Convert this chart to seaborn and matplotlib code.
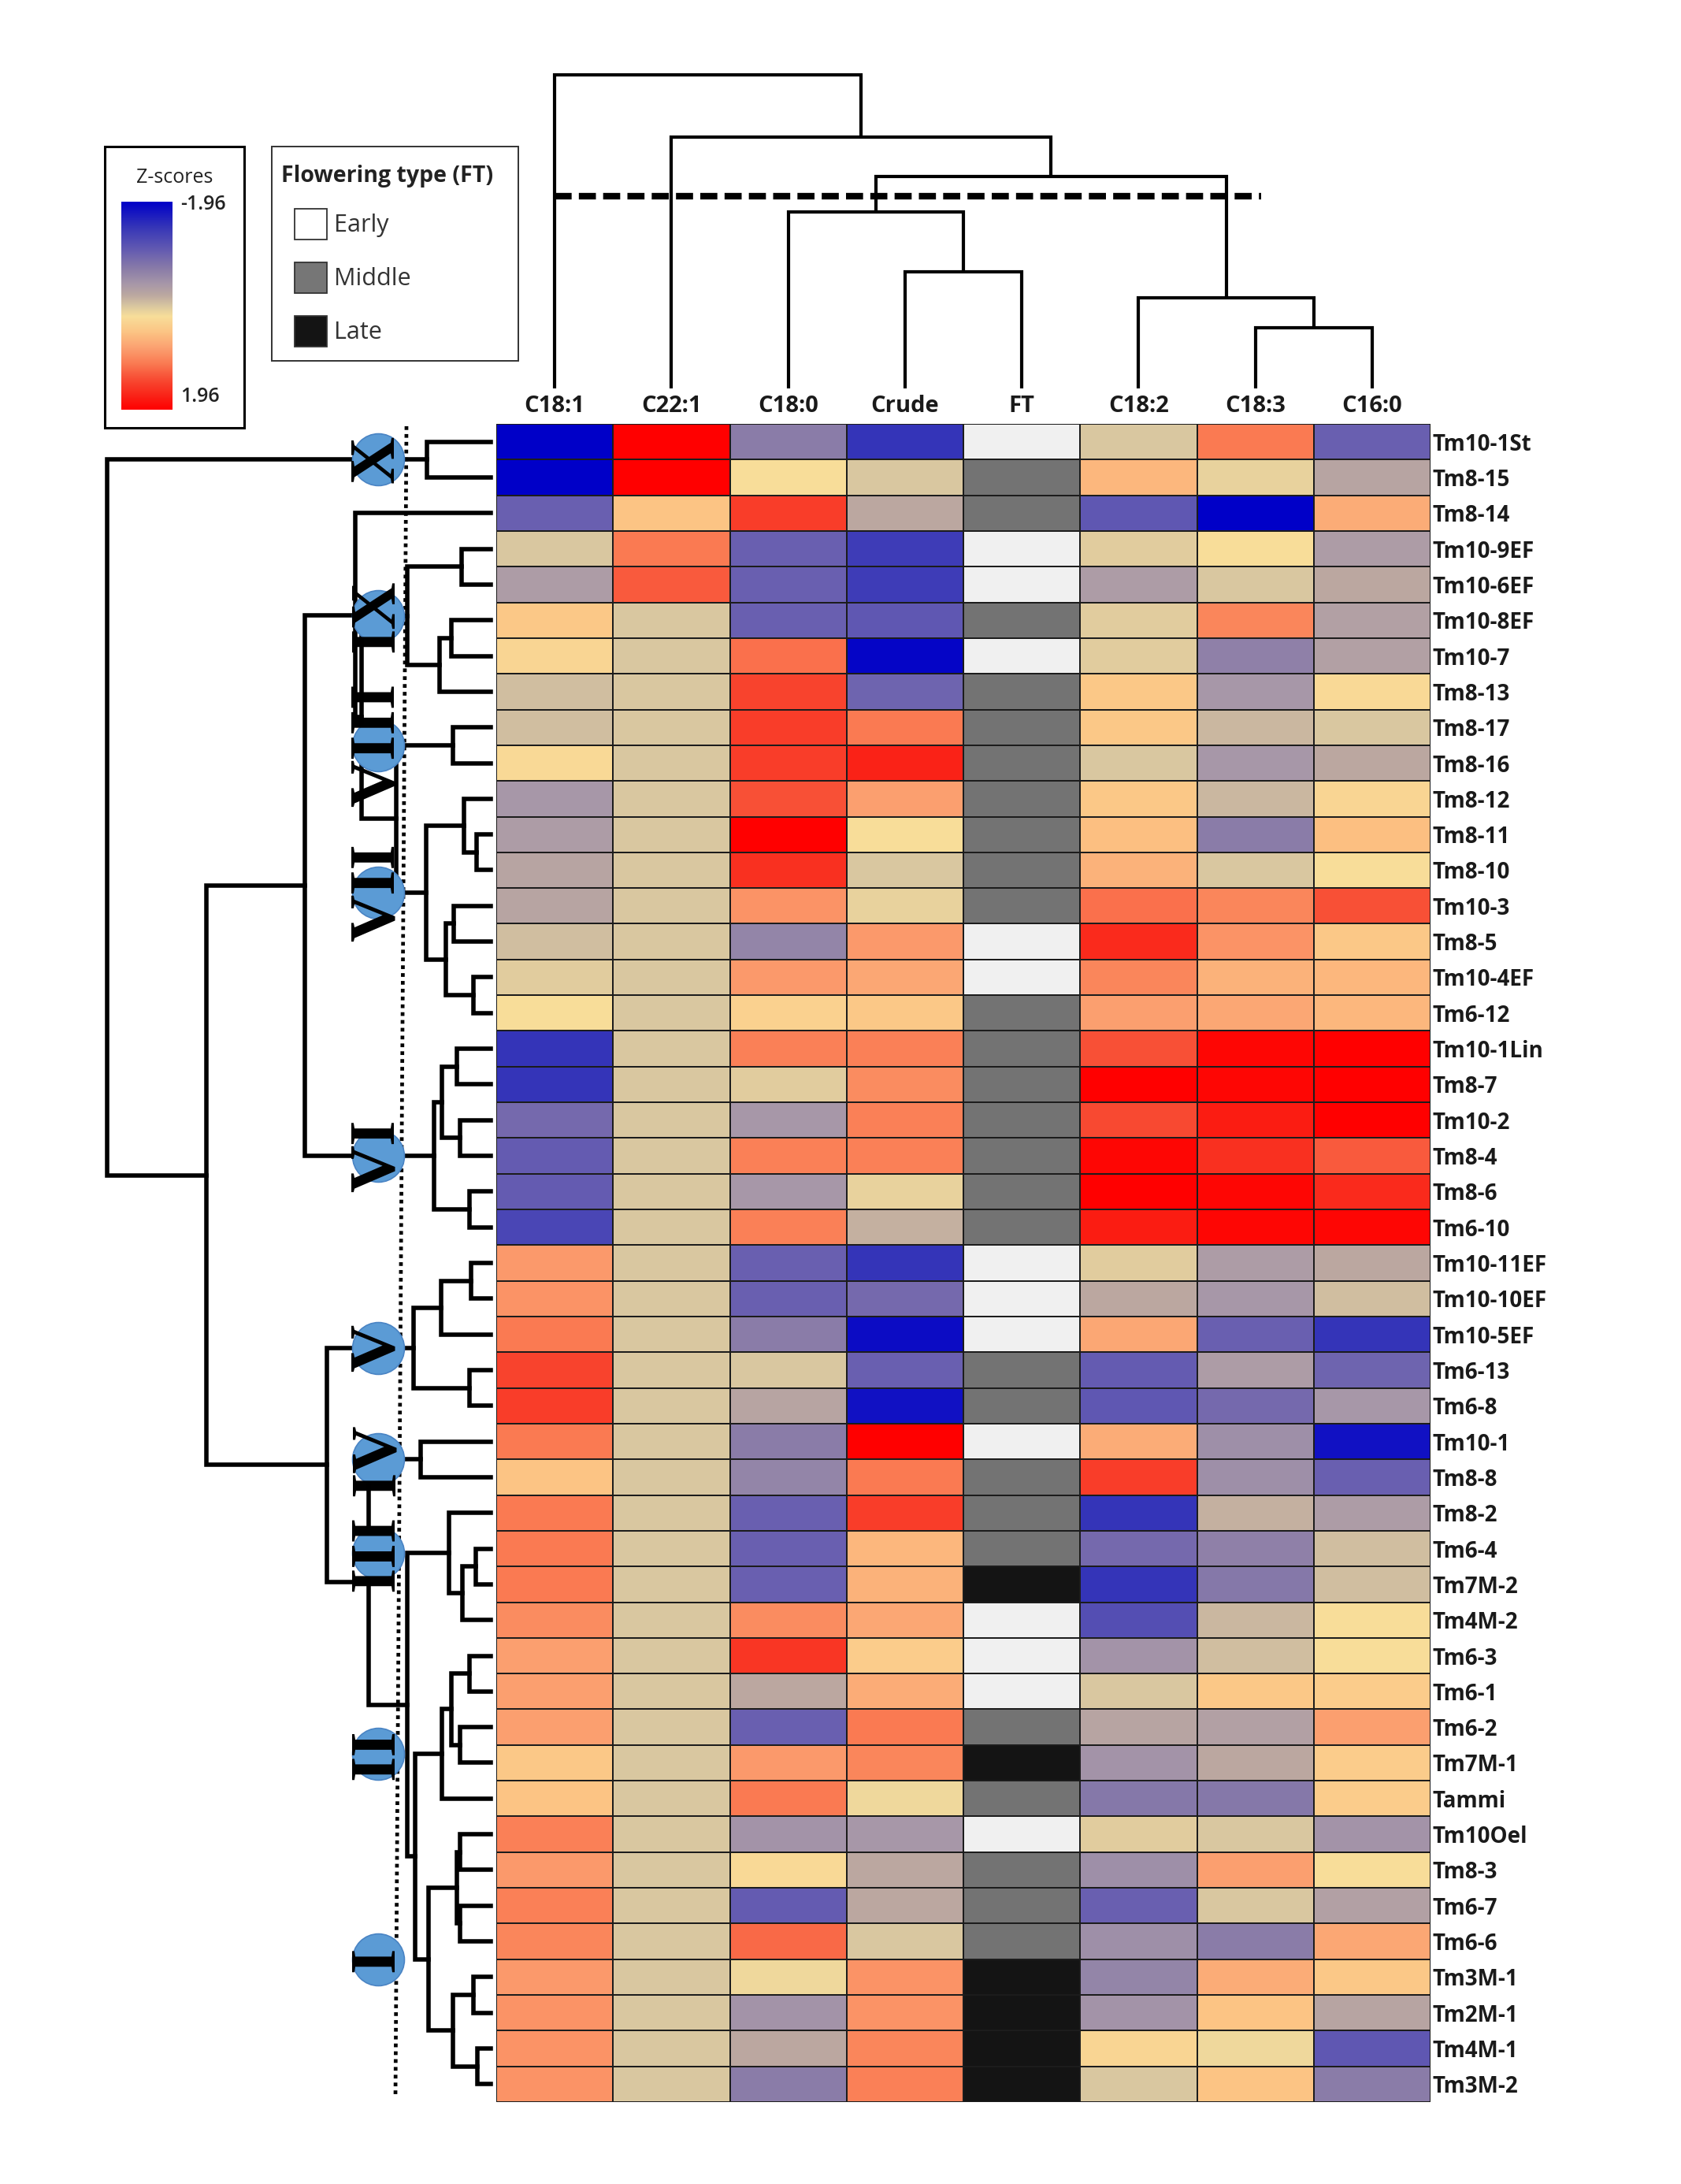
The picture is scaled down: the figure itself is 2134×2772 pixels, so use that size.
import numpy as np
import pandas as pd
import seaborn as sns
import matplotlib
matplotlib.use("Agg")
import matplotlib.pyplot as plt
from matplotlib.colors import LinearSegmentedColormap, ListedColormap
from matplotlib.patches import Rectangle

W, H, DPI = 2134, 2772, 100

# ---------------- data ----------------
rows = ["Tm10-1St", "Tm8-15", "Tm8-14", "Tm10-9EF", "Tm10-6EF", "Tm10-8EF", "Tm10-7",
        "Tm8-13", "Tm8-17", "Tm8-16", "Tm8-12", "Tm8-11", "Tm8-10", "Tm10-3", "Tm8-5",
        "Tm10-4EF", "Tm6-12", "Tm10-1Lin", "Tm8-7", "Tm10-2", "Tm8-4", "Tm8-6", "Tm6-10",
        "Tm10-11EF", "Tm10-10EF", "Tm10-5EF", "Tm6-13", "Tm6-8", "Tm10-1", "Tm8-8", "Tm8-2",
        "Tm6-4", "Tm7M-2", "Tm4M-2", "Tm6-3", "Tm6-1", "Tm6-2", "Tm7M-1", "Tammi", "Tm10Oel",
        "Tm8-3", "Tm6-7", "Tm6-6", "Tm3M-1", "Tm2M-1", "Tm4M-1", "Tm3M-2"]
columns = ["C18:1", "C22:1", "C18:0", "Crude", "FT", "C18:2", "C18:3", "C16:0"]

c18_1 = [-1.96, -1.96, -1.0, 0.0, -0.35, 0.45, 0.3, -0.05, -0.05, 0.25, -0.4, -0.35, -0.25, -0.25,
         -0.05, 0.05, 0.2, -1.5, -1.5, -0.9, -1.05, -1.05, -1.3, 0.85, 0.9, 1.1, 1.45, 1.5, 1.1,
         0.5, 1.1, 1.1, 1.1, 0.95, 0.8, 0.8, 0.8, 0.45, 0.5, 1.05, 0.85, 1.05, 1.0, 0.85, 0.9,
         0.9, 0.9]
c22_1 = [1.96, 1.96, 0.5, 1.1, 1.3] + [0.0] * 42
c18_0 = [-0.7, 0.2, 1.5, -1.0, -1.0, -1.0, 1.15, 1.45, 1.5, 1.5, 1.35, 1.96, 1.6, 0.9, -0.6,
         0.85, 0.35, 1.05, 0.05, -0.4, 1.05, -0.4, 1.05, -1.0, -1.0, -0.7, 0.0, -0.25, -0.7,
         -0.6, -1.0, -1.0, -1.0, 0.95, 1.55, -0.2, -1.0, 0.85, 1.1, -0.45, 0.25, -1.05, 1.2,
         0.15, -0.45, -0.2, -0.7]
crude = [-1.5, 0.0, -0.2, -1.4, -1.4, -1.1, -1.9, -0.95, 1.1, 1.7, 0.8, 0.2, 0.0, 0.1, 0.85,
         0.75, 0.45, 1.05, 0.95, 1.05, 1.05, 0.1, -0.15, -1.5, -0.9, -1.85, -1.0, -1.8, 1.96,
         1.1, 1.5, 0.6, 0.65, 0.75, 0.4, 0.7, 1.1, 1.0, 0.15, -0.4, -0.2, -0.2, 0.0, 0.9, 0.9,
         1.0, 1.05]
ft = ["Early", "Middle", "Middle", "Early", "Early", "Middle", "Early", "Middle", "Middle",
      "Middle", "Middle", "Middle", "Middle", "Middle", "Early", "Early", "Middle", "Middle",
      "Middle", "Middle", "Middle", "Middle", "Middle", "Early", "Early", "Early", "Middle",
      "Middle", "Early", "Middle", "Middle", "Middle", "Late", "Early", "Early", "Early",
      "Middle", "Late", "Middle", "Early", "Middle", "Middle", "Middle", "Late", "Late",
      "Late", "Late"]
c18_2 = [0.0, 0.6, -1.1, 0.05, -0.35, 0.05, 0.05, 0.45, 0.45, 0.0, 0.45, 0.55, 0.65, 1.15, 1.65,
         1.0, 0.8, 1.35, 1.96, 1.4, 1.9, 1.96, 1.75, 0.05, -0.2, 0.75, -1.05, -1.1, 0.7, 1.5,
         -1.5, -0.9, -1.5, -1.2, -0.45, 0.0, -0.25, -0.45, -0.75, 0.05, -0.5, -1.0, -0.5, -0.6,
         -0.45, 0.3, 0.0]
c18_3 = [1.1, 0.1, -1.96, 0.2, 0.0, 1.0, -0.65, -0.4, -0.1, -0.4, -0.1, -0.7, 0.0, 1.0, 0.9,
         0.65, 0.75, 1.9, 1.9, 1.75, 1.6, 1.9, 1.9, -0.35, -0.4, -1.0, -0.35, -0.9, -0.5, -0.5,
         -0.15, -0.65, -0.75, -0.1, -0.05, 0.45, -0.3, -0.2, -0.75, 0.0, 0.8, 0.0, -0.7, 0.7,
         0.5, 0.15, 0.5]
c16_0 = [-1.0, -0.25, 0.7, -0.35, -0.2, -0.3, -0.3, 0.25, 0.0, -0.2, 0.3, 0.55, 0.2, 1.35, 0.45,
         0.6, 0.6, 1.96, 1.96, 1.96, 1.3, 1.65, 1.9, -0.2, -0.05, -1.5, -0.95, -0.4, -1.8, -1.0,
         -0.35, -0.05, -0.05, 0.2, 0.2, 0.4, 0.8, 0.4, 0.4, -0.45, 0.2, -0.3, 0.75, 0.45, -0.25,
         -1.1, -0.7]

ft_levels = ["Early", "Middle", "Late"]
ft_colors = ["#F0F0F0", "#737373", "#141414"]

# colour scale anchors (z value, colour)
z_anchor_vals = [-1.96, -1.5, -1.0, -0.7, -0.4, -0.2, 0.0, 0.2, 0.5, 0.8, 1.1, 1.4, 1.7, 1.96]
z_anchor_cols = ["#0000C8", "#3434B8", "#6A60B0", "#8A7CA8", "#A898A8", "#BCA8A0", "#D8C6A0",
                 "#F8DE9A", "#FCC484", "#FBA070", "#FA7A52", "#F84A32", "#FA2418", "#FF0000"]

# column dendrogram: (height, left, right)
col_tree = (398, "C18:1",
            (319, "C22:1",
             (269, (224, "C18:0", (148, "Crude", "FT")),
                   (115, "C18:2", (77, "C18:3", "C16:0")))))
col_cut = 244

# row dendrogram: (height, left, right, [cluster label])
X_ = (16.6, "Tm10-1St", "Tm8-15", "X")
IX_ = (21.8, (7.6, "Tm10-9EF", "Tm10-6EF"), (13.3, (10.3, "Tm10-8EF", "Tm10-7"), "Tm8-13"), "IX")
VIII_ = (9.9, "Tm8-17", "Tm8-16", "VIII")
VII_ = (16.8, (7.0, "Tm8-12", (3.7, "Tm8-11", "Tm8-10")),
        (11.7, (9.7, "Tm10-3", "Tm8-5"), (4.5, "Tm10-4EF", "Tm6-12")), "VII")
VI_ = (14.8, (12.7, (8.8, "Tm10-1Lin", "Tm8-7"), (8.0, "Tm10-2", "Tm8-4")),
       (5.5, "Tm8-6", "Tm6-10"), "VI")
V_ = (20.1, (12.9, (5.1, "Tm10-11EF", "Tm10-10EF"), "Tm10-5EF"), (5.5, "Tm6-13", "Tm6-8"), "V")
IV_ = (18.3, "Tm10-1", "Tm8-8", "IV")
III_ = (10.9, "Tm8-2", (7.4, (3.9, "Tm6-4", "Tm7M-2"), "Tm4M-2"), "III")
II_ = (12.7, (10.3, (5.5, "Tm6-3", "Tm6-1"), (8.0, "Tm6-2", "Tm7M-1")), "Tammi", "II")
I_ = (16.2, (8.8, (8.0, "Tm10Oel", "Tm8-3"), (8.0, "Tm6-7", "Tm6-6")),
      (9.9, (4.5, "Tm3M-1", "Tm2M-1"), (3.5, "Tm4M-1", "Tm3M-2")), "I")
row_tree = (100, X_,
            (74.1,
             (48.5, (35.3, "Tm8-14", (33.7, IX_, (24.6, VIII_, VII_))), VI_),
             (42.7, V_, (31.8, IV_, (21.8, III_, (19.7, II_, I_))))))
label_depth = 29.4

# ---------------- figure ----------------
sns.set_theme(style="white")
plt.rcParams["font.family"] = ["Open Sans", "DejaVu Sans"]
fig = plt.figure(figsize=(W / DPI, H / DPI), dpi=DPI, facecolor="white")

def rect(x0, y0, x1, y1):
    return [x0 / W, 1 - y1 / H, (x1 - x0) / W, (y1 - y0) / H]

HM = (630, 538, 1816, 2668)
ax = fig.add_axes(rect(*HM))

zcmap = LinearSegmentedColormap.from_list(
    "z", [((v + 1.96) / 3.92, c) for v, c in zip(z_anchor_vals, z_anchor_cols)])
ftcmap = ListedColormap(ft_colors)

df = pd.DataFrame({"C18:1": c18_1, "C22:1": c22_1, "C18:0": c18_0, "Crude": crude,
                   "FT": [ft_levels.index(f) for f in ft], "C18:2": c18_2,
                   "C18:3": c18_3, "C16:0": c16_0}, index=rows)[columns].astype(float)
zdf = df.copy()
zdf["FT"] = np.nan
fdf = df.copy()
for c in columns:
    if c != "FT":
        fdf[c] = np.nan

sns.heatmap(zdf, ax=ax, cmap=zcmap, vmin=-1.96, vmax=1.96, cbar=False,
            linewidths=1.4, linecolor="#1c1c1c")
sns.heatmap(fdf, ax=ax, cmap=ftcmap, vmin=-0.5, vmax=2.5, cbar=False,
            linewidths=1.4, linecolor="#1c1c1c")
ax.xaxis.tick_top()
ax.yaxis.tick_right()
ax.set_xticks(np.arange(len(columns)) + 0.5)
ax.set_xticklabels(columns, fontsize=21, fontweight="bold", color="#1a1a1a")
ax.set_yticks(np.arange(len(rows)) + 0.5)
ax.set_yticklabels(rows, fontsize=20, fontweight="bold", color="#1a1a1a", rotation=0)
ax.tick_params(axis="x", length=0, pad=6)
ax.tick_params(axis="y", length=0, pad=2)
ax.set_xlabel("")
ax.set_ylabel("")

# ---------------- dendrograms ----------------
def draw(node, pos, axd, horizontal, lw, labels_out):
    if isinstance(node, str):
        return pos[node], 0.0
    h, a, b = node[0], node[1], node[2]
    pa, ha = draw(a, pos, axd, horizontal, lw, labels_out)
    pb, hb = draw(b, pos, axd, horizontal, lw, labels_out)
    if horizontal:
        axd.plot([ha, h, h, hb], [pa, pa, pb, pb], color="black", lw=lw,
                 solid_joinstyle="miter", solid_capstyle="projecting", clip_on=False)
    else:
        axd.plot([pa, pa, pb, pb], [ha, h, h, hb], color="black", lw=lw,
                 solid_joinstyle="miter", solid_capstyle="butt", clip_on=False)
    p = (pa + pb) / 2
    if len(node) > 3:
        labels_out.append((node[3], p))
    return p, h

axl = fig.add_axes(rect(136, HM[1], 623, HM[3]), sharey=ax)
axl.set_xlim(100, 0)
axl.axis("off")
row_pos = {r: i + 0.5 for i, r in enumerate(rows)}
clusters = []
draw(row_tree, row_pos, axl, True, 4.0, clusters)

axt = fig.add_axes(rect(HM[0], 95, HM[2], 493), sharex=ax)
axt.set_ylim(0, 398)
axt.axis("off")
col_pos = {c: i + 0.5 for i, c in enumerate(columns)}
draw(col_tree, col_pos, axt, False, 3.0, [])
axt.plot([0.5, 6.55], [col_cut, col_cut], color="black", lw=6,
         dashes=(2.6, 1.1), solid_capstyle="butt", clip_on=False)
ax.set_xlim(0, len(columns))
ax.set_ylim(len(rows), 0)

# ---------------- overlay (decorations, legends) ----------------
ov = fig.add_axes([0, 0, 1, 1])
ov.set_xlim(0, W)
ov.set_ylim(H, 0)
ov.axis("off")
ov.patch.set_alpha(0)
ov.set_zorder(0.5)
ov.plot([516, 502], [541, 2661], color="black", lw=3.4, dashes=(1.0, 1.1),
        solid_capstyle="butt")

axl.set_zorder(1)
for name, p in clusters:
    axl.scatter([label_depth], [p], s=2250, color="#5B9BD5", edgecolor="#4A84C4",
                linewidth=1.2, zorder=5, clip_on=False)
    axl.text(label_depth, p, name, rotation=90, ha="center", va="center",
             fontsize=60, fontweight="bold", family=["Liberation Serif", "DejaVu Serif"],
             color="black", zorder=6, clip_on=False)

# Z-score legend
ov.add_patch(Rectangle((133, 186), 177, 357, fill=False, lw=2.2, edgecolor="black"))
ov.text(222, 226, "Z-scores", ha="center", va="center", fontsize=18, color="#222")
ov.text(229, 260, "-1.96", ha="left", va="center", fontsize=18, fontweight="semibold",
        color="#222")
ov.text(229, 504, "1.96", ha="left", va="center", fontsize=18, fontweight="semibold",
        color="#222")
cax = fig.add_axes(rect(154, 256, 219, 520))
cax.imshow(np.linspace(-1.96, 1.96, 256)[:, None], cmap=zcmap, vmin=-1.96, vmax=1.96,
           aspect="auto")
cax.axis("off")

# Flowering type legend
ov.add_patch(Rectangle((345, 186), 313, 272, fill=False, lw=1.4, edgecolor="#333"))
ov.text(357, 224, "Flowering type (FT)", ha="left", va="center", fontsize=20.5,
        fontweight="bold", color="#222")
for i, (lab, colr) in enumerate(zip(ft_levels, ["#FFFFFF", "#767676", "#141414"])):
    y0 = 265 + i * 68
    ov.add_patch(Rectangle((374, y0), 41, 39, facecolor=colr, edgecolor="#333", lw=1.3))
    ov.text(424, y0 + 21, lab, ha="left", va="center", fontsize=22, color="#333")

fig.savefig("out.png", dpi=DPI, facecolor="white")
